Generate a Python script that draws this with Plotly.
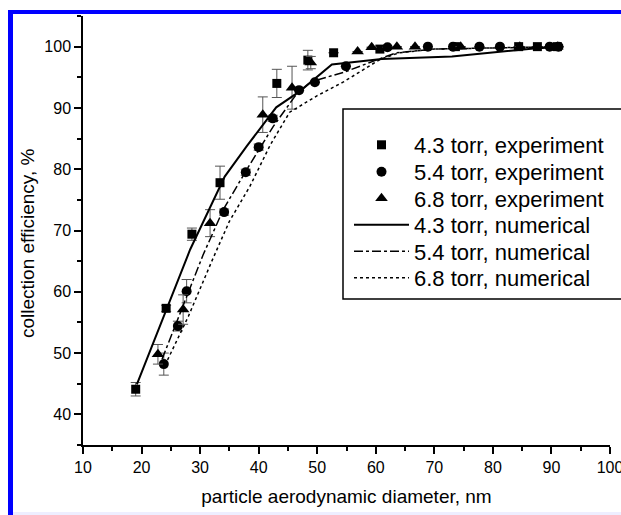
import plotly.graph_objects as go

# ---- experimental data ----
sq_x = [19.0, 24.2, 28.6, 33.4, 43.1, 48.4, 52.8, 60.7, 73.6, 84.4, 87.6, 91.0]
sq_y = [44.1, 57.3, 69.4, 77.8, 94.0, 97.8, 99.0, 99.6, 100.0, 100.0, 100.0, 100.0]
sq_e = [1.1, 0.5, 1.0, 2.7, 2.3, 1.6, 0, 0, 0, 0, 0, 0]

ci_x = [23.8, 26.2, 27.7, 34.1, 37.8, 40.0, 42.4, 46.9, 49.6, 54.9, 62.0, 68.9, 73.2, 77.7, 81.2, 89.7, 91.2]
ci_y = [48.2, 54.4, 60.1, 73.0, 79.5, 83.6, 88.3, 92.9, 94.2, 96.8, 99.9, 100.0, 100.0, 100.0, 100.0, 100.0, 100.0]
ci_e = [1.8, 0.8, 1.9, 0.5, 0.5, 0.5, 0.5, 0, 0, 0, 0, 0, 0, 0, 0, 0, 0]

tr_x = [22.8, 27.1, 31.7, 40.7, 45.7, 48.9, 56.9, 59.3, 63.6, 66.7, 74.5, 84.6, 91.0]
tr_y = [49.8, 57.1, 71.2, 88.9, 93.3, 97.4, 99.2, 99.9, 100.0, 100.0, 100.0, 100.0, 100.0]
tr_e = [1.6, 2.4, 2.2, 2.9, 3.5, 1.0, 0, 0, 0, 0, 0, 0, 0]

# ---- numerical curves ----
n43_x = [19.2, 24.0, 28.3, 34.2, 38.0, 43.0, 47.0, 52.5, 61.0, 73.0, 80.0, 87.0, 92.0]
n43_y = [44.9, 56.5, 66.9, 78.8, 83.8, 90.1, 92.7, 97.1, 98.0, 98.4, 99.0, 99.7, 100.0]

n54_x = [23.5, 27.0, 30.5, 34.0, 38.0, 42.5, 46.5, 49.0, 54.5, 59.5, 63.5, 70.0, 80.0, 92.0]
n54_y = [49.0, 57.5, 66.0, 73.5, 80.0, 87.0, 92.3, 94.3, 95.8, 97.6, 99.0, 99.6, 99.8, 100.0]

n68_x = [24.0, 28.0, 32.0, 35.0, 38.5, 42.0, 45.3, 50.0, 54.4, 60.7, 64.0, 70.0, 80.0, 92.0]
n68_y = [48.0, 56.0, 65.0, 71.5, 77.2, 84.0, 89.3, 92.0, 94.2, 97.9, 99.0, 99.6, 99.8, 100.0]

x_ticks = [10, 20, 30, 40, 50, 60, 70, 80, 90, 100]
y_ticks = [40, 50, 60, 70, 80, 90, 100]

FONT = "Liberation Sans, Arial, sans-serif"

L, R, T, B = 83, 11, 16, 70
W, H = 621, 515
pw, ph = W - L - R, H - T - B

def px(x):
    return (x - L) / pw

def py(y):
    return (H - B - y) / ph

fig = go.Figure()

def err(e):
    return dict(type="data", array=e, visible=True, color="#555555", thickness=1, width=5)

fig.add_trace(go.Scatter(x=sq_x, y=sq_y, mode="markers", name="4.3 torr, experiment", legend="legend",
                         marker=dict(symbol="square", size=9, color="black"), error_y=err(sq_e)))
fig.add_trace(go.Scatter(x=ci_x, y=ci_y, mode="markers", name="5.4 torr, experiment", legend="legend2",
                         marker=dict(symbol="circle", size=10, color="black"), error_y=err(ci_e)))
fig.add_trace(go.Scatter(x=tr_x, y=tr_y, mode="markers", name="6.8 torr, experiment", legend="legend3",
                         marker=dict(symbol="triangle-up", size=11, color="black"), error_y=err(tr_e)))
fig.add_trace(go.Scatter(x=n43_x, y=n43_y, mode="lines", name="4.3 torr, numerical", legend="legend4",
                         line=dict(color="black", width=2, dash="solid")))
fig.add_trace(go.Scatter(x=n54_x, y=n54_y, mode="lines", name="5.4 torr, numerical", legend="legend5",
                         line=dict(color="black", width=1.5, dash="dashdot")))
fig.add_trace(go.Scatter(x=n68_x, y=n68_y, mode="lines", name="6.8 torr, numerical", legend="legend6",
                         line=dict(color="black", width=1.5, dash="dot")))

row_y = [145, 172, 198.5, 225, 251.5, 278]

def leg(yc):
    return dict(x=px(349), y=py(yc), xanchor="left", yanchor="middle",
                borderwidth=0, bgcolor="rgba(0,0,0,0)", itemwidth=55,
                font=dict(size=22, family=FONT, color="black"))

shapes = [
    dict(type="rect", xref="paper", yref="paper", x0=px(343), x1=px(640), y0=py(299), y1=py(109),
         fillcolor="white", line=dict(color="black", width=1.5), layer="below"),
    dict(type="rect", xref="paper", yref="paper", x0=px(8), x1=px(13), y0=py(515), y1=py(10),
         fillcolor="#0000ff", line=dict(width=0), layer="above"),
    dict(type="rect", xref="paper", yref="paper", x0=px(8), x1=px(625), y0=py(14), y1=py(10),
         fillcolor="#0000ff", line=dict(width=0), layer="above"),
    dict(type="rect", xref="paper", yref="paper", x0=px(13), x1=px(625), y0=py(515), y1=py(512),
         fillcolor="#eeeeff", line=dict(width=0), layer="above"),
]

fig.update_layout(
    width=W, height=H,
    margin=dict(l=L, r=R, t=T, b=B, pad=0, autoexpand=False),
    paper_bgcolor="white", plot_bgcolor="white",
    font=dict(family=FONT, color="black"),
    showlegend=True,
    legend=leg(row_y[0]), legend2=leg(row_y[1]), legend3=leg(row_y[2]),
    legend4=leg(row_y[3]), legend5=leg(row_y[4]), legend6=leg(row_y[5]),
    shapes=shapes,
    annotations=[dict(text="collection efficiency, %", xref="paper", yref="paper",
                      x=px(27), y=py(244), xanchor="center", yanchor="middle",
                      textangle=-90, showarrow=False, font=dict(size=19, family=FONT, color="black"))],
    xaxis=dict(range=[10, 100], tickvals=x_ticks, ticktext=[str(v) for v in x_ticks],
               automargin=False, ticklabeloverflow="allow",
               showgrid=False, zeroline=False, showline=True, linecolor="black", linewidth=1.5,
               ticks="outside", ticklen=7, tickwidth=1.5, tickcolor="black",
               minor=dict(dtick=5, tick0=5, ticks="outside", ticklen=4, tickwidth=1.5, tickcolor="black"),
               tickfont=dict(size=16), title=dict(text="particle aerodynamic diameter, nm",
                                                    font=dict(size=19), standoff=15)),
    yaxis=dict(range=[35, 105], tickvals=y_ticks, ticktext=[str(v) for v in y_ticks],
               automargin=False, ticklabeloverflow="allow",
               showgrid=False, zeroline=False, showline=True, linecolor="black", linewidth=1.5,
               ticks="outside", ticklen=7, tickwidth=1.5, tickcolor="black",
               minor=dict(dtick=5, tick0=5, ticks="outside", ticklen=4, tickwidth=1.5, tickcolor="black"),
               tickfont=dict(size=16)),
)

fig.write_html("out.html")
